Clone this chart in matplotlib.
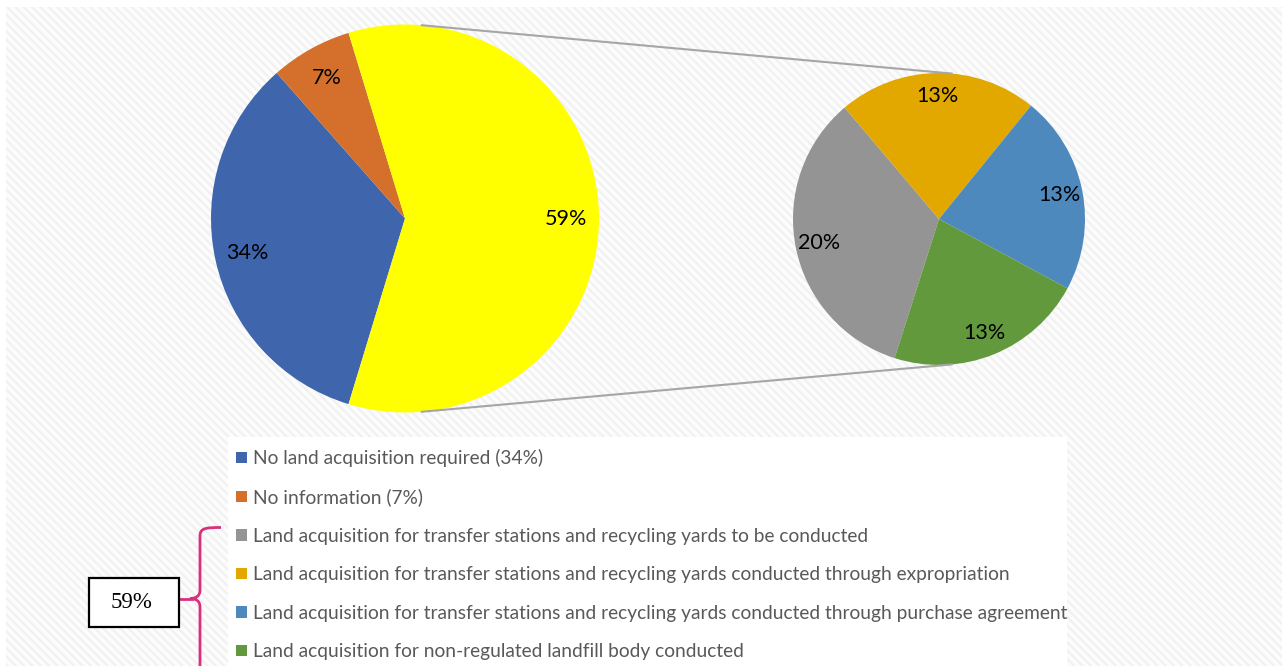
import matplotlib
matplotlib.use("Agg")
import matplotlib.pyplot as plt
import numpy as np
from matplotlib.patches import Rectangle, PathPatch
from matplotlib.path import Path

# ---------------- data ----------------
main_labels = ["No land acquisition required (34%)", "No information (7%)", "Other"]
main_values = [33.8, 6.8, 59.4]
main_colors = ["#3F65AD", "#D4702C", "#FFFF00"]

sub_labels = [
    "Land acquisition for transfer stations and recycling yards to be conducted",
    "Land acquisition for transfer stations and recycling yards conducted through expropriation",
    "Land acquisition for transfer stations and recycling yards conducted through purchase agreement",
    "Land acquisition for non-regulated landfill body conducted",
]
sub_values = [20, 13, 13, 13]
sub_colors = ["#949494", "#E2A800", "#4E89BE", "#63993D"]
bracket_text = "59%"

W, H = 1282, 666
FONT = ["Lato", "DejaVu Sans"]
plt.rcParams["hatch.linewidth"] = 1.6

fig = plt.figure(figsize=(W / 100, H / 100), dpi=100)
fig.patch.set_facecolor("white")
ax = fig.add_axes([0, 0, 1, 1])

def py(y):  # pixel-from-top -> data y
    return H - y

# hatched background
ax.add_patch(Rectangle((6, 0), W - 6, py(7), facecolor="#FCFCFC", edgecolor="#F1F1F1",
                       linewidth=0, hatch="\\\\\\\\", zorder=0))
# legend white area
ax.add_patch(Rectangle((228, 0), 1067 - 228, py(437), facecolor="white",
                       edgecolor="none", zorder=1))

# main pie (drawn clockwise, "other" slice centred on the right)
tot = sum(main_values)
start1 = (main_values[2] / tot) * 180 + 360 * (main_values[0] + main_values[1]) / tot
c1 = (405, py(218.5)); r1 = 194
w1, t1, a1 = ax.pie(main_values, colors=main_colors, center=c1, radius=r1,
                    startangle=start1, counterclock=False, frame=True,
                    autopct="%1.0f%%", pctdistance=0.83,
                    wedgeprops=dict(linewidth=0),
                    textprops=dict(fontsize=15.5, color="black", family=FONT))

# secondary pie
c2 = (939, py(219)); r2 = 146
w2, t2, a2 = ax.pie(sub_values, colors=sub_colors, center=c2, radius=r2,
                    startangle=252.3, counterclock=False, frame=True,
                    autopct=lambda p: f"{p * sum(sub_values) / 100:.0f}%",
                    pctdistance=0.84,
                    wedgeprops=dict(linewidth=0),
                    textprops=dict(fontsize=15.5, color="black", family=FONT))

# connector lines
ang = np.deg2rad(85)
for s in (1, -1):
    x1 = c1[0] + r1 * np.cos(ang); y1 = c1[1] + s * r1 * np.sin(ang)
    x2 = c2[0] + r2 * np.cos(ang); y2 = c2[1] + s * r2 * np.sin(ang)
    ax.plot([x1, x2], [y1, y2], color="#A6A6A6", lw=1.5, zorder=3)

ax.set_xlim(0, W); ax.set_ylim(0, H)
ax.set_aspect("auto")
ax.axis("off")

# legend
handles = [w1[0], w1[1]] + list(w2)
labels = main_labels[:2] + sub_labels
leg = ax.legend(handles, labels, loc="upper left",
                bbox_to_anchor=(236 / W, 1 - 449 / H), bbox_transform=fig.transFigure,
                frameon=False, handlelength=0.55, handleheight=0.55,
                handletextpad=0.32, labelspacing=1.12, borderpad=0, borderaxespad=0,
                prop=dict(family=FONT, size=13.8))
for t in leg.get_texts():
    t.set_color("#595959")

# bracket
mag = "#D9307E"
verts = [(221, py(527.5)), (206, py(527.5)), (200, py(528)), (200, py(536)),
         (200, py(590)),
         (200, py(596)), (196, py(598.5)), (190, py(598.5)),
         (196, py(598.5)), (200, py(601)), (200, py(607)),
         (200, py(680))]
codes = [Path.MOVETO, Path.CURVE4, Path.CURVE4, Path.CURVE4,
         Path.LINETO,
         Path.CURVE4, Path.CURVE4, Path.CURVE4,
         Path.CURVE4, Path.CURVE4, Path.CURVE4,
         Path.LINETO]
ax.add_patch(PathPatch(Path(verts, codes), facecolor="none", edgecolor=mag, lw=2, zorder=4,
                       clip_on=False))
ax.plot([179, 192], [py(598.5), py(598.5)], color=mag, lw=2, zorder=4)

# box
ax.add_patch(Rectangle((89, py(627)), 90, 49, facecolor="white", edgecolor="black",
                       lw=1.6, zorder=5))
ax.text(131, py(603), bracket_text, ha="center", va="center", fontsize=16.5,
        family="Liberation Serif", color="black", zorder=6)

fig.savefig("out.png", dpi=100)
